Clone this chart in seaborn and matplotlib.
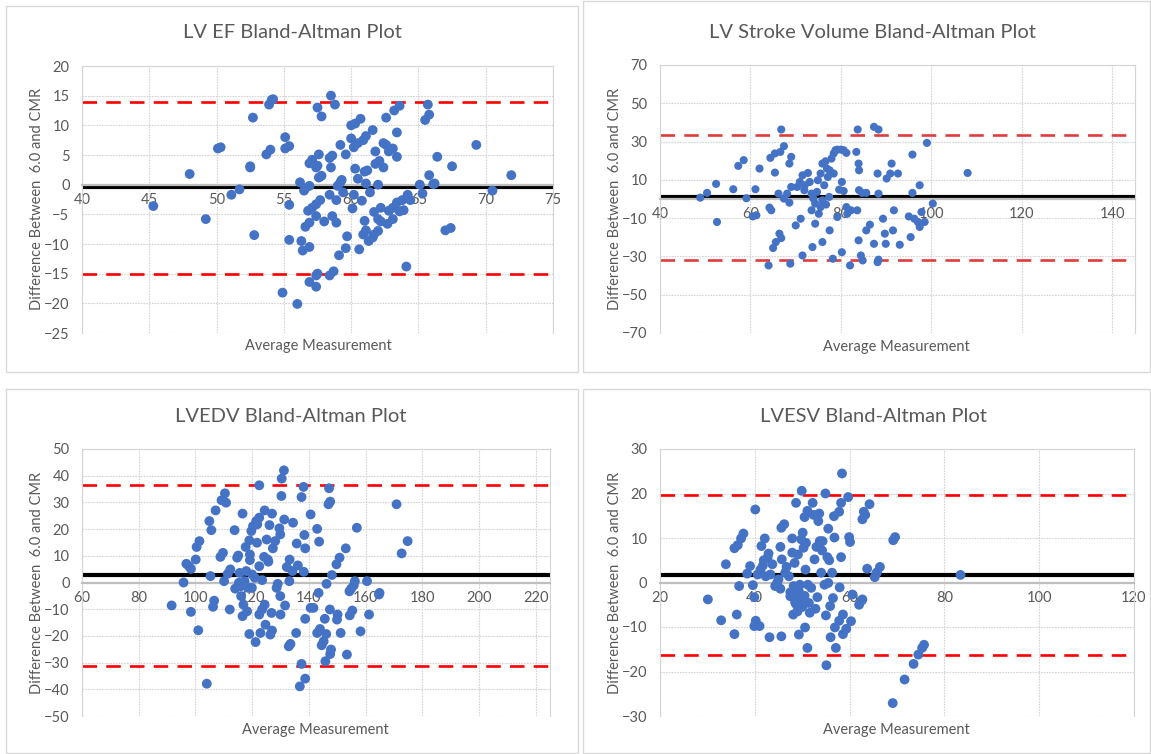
import matplotlib
matplotlib.use("Agg")
import matplotlib.pyplot as plt
import seaborn as sns
import numpy as np
import pandas as pd
from matplotlib.patches import Rectangle

# ---- data ----
ef_avg = [45.3, 48.0, 49.2, 50.1, 50.3, 51.1, 51.7, 52.5, 52.5, 52.7, 52.8, 53.7, 53.9, 54.0, 54.1, 54.2,
          55.1, 55.1, 55.4, 55.4, 55.4, 54.9, 56.0, 56.2, 56.5, 56.6, 56.9, 56.3, 56.4, 56.9, 56.9, 57.4,
          57.4, 57.5, 56.9, 57.1, 57.4, 57.5, 57.6, 57.6, 57.8, 57.5, 57.8, 56.6, 56.9, 56.8, 57.1, 57.4,
          57.7, 57.4, 58.0, 58.4, 58.5, 58.8, 58.4, 58.6, 58.5, 58.4, 58.7, 58.6, 58.9, 58.9, 59.0, 59.2,
          59.3, 59.4, 59.2, 59.6, 59.7, 59.6, 59.1, 60.0, 60.0, 60.3, 60.2, 60.3, 60.5, 60.2, 60.1, 60.7,
          60.5, 60.9, 61.1, 61.0, 61.2, 60.8, 61.1, 61.4, 60.6, 60.9, 61.0, 61.1, 61.3, 61.6, 61.7, 61.6,
          61.8, 61.8, 62.1, 62.0, 61.7, 62.2, 62.0, 62.2, 62.0, 62.4, 62.4, 62.6, 62.6, 62.7, 62.8, 63.1,
          62.8, 63.1, 63.1, 63.2, 63.6, 63.4, 63.4, 63.4, 63.6, 63.8, 63.9, 64.1, 64.2, 64.4, 65.1, 65.3,
          65.5, 65.7, 65.8, 65.8, 66.1, 66.2, 66.4, 67.0, 67.4, 67.5, 69.3, 70.5, 71.9]
ef_diff = [-3.6, 1.8, -5.8, 6.1, 6.3, -1.7, -0.8, 2.9, 3.1, 11.3, -8.5, 5.1, 13.5, 5.9, 14.3, 14.4,
           8.0, 6.1, 6.5, -3.4, -9.3, -18.2, -20.1, 0.4, -1.0, -0.6, -0.2, -9.5, -11.1, -10.5, -16.4, -17.2,
           -15.3, -15.0, 3.6, 4.2, 2.9, 3.2, 5.1, 1.2, 1.5, 13.0, 11.5, -7.1, -6.4, -4.4, -3.9, -3.3,
           -2.6, -5.3, -6.2, -1.7, 15.0, 13.5, 4.5, 4.9, 2.9, -15.3, -14.6, -5.3, -2.6, -6.4, -0.2, 0.4,
           0.8, -1.3, 6.7, 5.1, -8.7, -10.7, -11.9, 7.8, 10.0, 10.3, 6.3, 2.7, 1.0, -1.7, -4.0, 11.1,
           7.0, 7.5, 8.2, 2.2, 2.4, -2.7, 0.2, -1.3, -10.9, -8.4, -6.1, -7.7, -9.5, -8.9, -8.4, 9.2,
           5.6, 3.5, 4.0, 0.0, -4.6, -3.9, -5.8, -6.2, -7.8, 2.9, 7.0, 6.7, 11.3, -6.6, -4.4, 6.1,
           5.6, -3.9, -5.8, 12.5, 13.3, 8.8, 4.7, -3.0, -4.5, -2.6, -4.3, -13.8, -1.7, -2.6, 0.0, -1.5,
           10.9, 13.5, 11.8, 1.6, 0.1, 0.2, 4.7, -7.7, -7.3, 3.1, 6.7, -1.0, 1.6]

sv_avg = [48.9, 50.4, 52.4, 52.6, 56.2, 57.3, 58.5, 59.1, 60.5, 61.3, 61.1, 62.0, 64.2, 64.4, 65.4, 66.6,
          66.8, 67.4, 65.4, 66.2, 64.6, 65.0, 65.6, 66.4, 66.8, 64.0, 68.6, 69.0, 67.4, 68.1, 68.6, 69.0,
          68.8, 70.0, 71.1, 71.5, 70.3, 70.9, 71.5, 71.9, 72.0, 72.7, 73.1, 73.5, 73.9, 73.5, 74.3, 73.7,
          74.3, 74.7, 74.9, 75.5, 75.9, 76.3, 75.9, 75.5, 75.1, 75.9, 76.6, 76.9, 77.1, 77.5, 77.9, 78.4,
          78.8, 79.2, 80.0, 80.6, 81.2, 78.4, 77.4, 76.7, 77.5, 78.2, 80.2, 79.6, 80.6, 79.2, 80.2, 81.4,
          82.0, 81.2, 82.2, 83.4, 83.7, 83.9, 84.0, 84.0, 84.7, 83.6, 83.9, 84.4, 84.8, 85.6, 85.6, 86.4,
          87.3, 88.3, 88.1, 88.3, 87.3, 88.1, 88.3, 89.3, 89.7, 89.9, 90.1, 90.9, 91.2, 91.7, 91.5, 92.6,
          93.0, 95.0, 95.4, 95.8, 95.8, 96.2, 97.0, 97.4, 97.8, 97.4, 98.5, 99.0, 100.3, 108.0]
sv_diff = [0.7, 3.2, 7.9, -12.0, 5.1, 17.3, 20.3, 0.4, -9.1, -8.5, 5.1, 15.9, -4.5, 21.5, 23.8, 24.6,
           36.3, 27.6, 13.8, 2.8, -5.9, -25.6, -22.5, -18.1, -20.4, -34.7, 18.5, 22.0, 0.2, 2.8, -1.9, 6.3,
           -33.8, -13.8, -10.3, -29.5, 6.3, 8.9, 12.4, 4.6, 7.2, 13.6, 8.9, 2.8, 0.2, -5.9, -12.9, -25.1,
           -2.4, 3.7, 9.8, 13.3, 18.5, 7.2, -0.7, -4.2, -7.7, -22.5, 19.7, 15.9, 11.5, 15.0, 21.1, 23.8,
           25.5, 25.8, 25.8, 25.5, 24.1, 13.3, 1.1, -2.9, -16.4, -31.2, 8.9, 4.9, 4.2, -9.4, -27.8, -7.7,
           -34.7, -4.2, -5.9, 24.6, 36.3, 18.5, 15.0, 4.6, 3.2, -5.9, -21.6, -29.5, -32.1, 3.2, -16.4, -13.4,
           37.7, 36.3, 13.3, 2.8, -23.4, -33.0, -31.7, -10.3, -18.1, -23.4, 10.7, 13.3, 18.5, -5.9, -16.4, 13.3,
           -23.9, -9.1, -19.9, 3.2, 23.2, -10.3, -12.0, 7.2, -6.8, -14.6, -12.0, 29.3, -2.4, 13.6]

edv_avg = [91.6, 95.8, 96.8, 97.7, 98.4, 98.4, 100.1, 100.4, 101.4, 101.0, 104.0, 104.9, 105.6, 105.3, 106.2,
           106.6, 107.1, 108.8, 109.2, 109.7, 110.1, 110.4, 110.8, 111.4, 112.1, 112.3, 113.8, 114.0, 114.7,
           115.1, 115.6, 115.3, 116.0, 116.1, 116.6, 116.6, 116.9, 117.3, 117.7, 117.9, 118.2, 118.6, 119.0,
           119.0, 119.2, 119.2, 119.7, 120.3, 120.0, 119.9, 120.9, 121.2, 121.4, 121.7, 121.8, 122.5, 122.5,
           122.5, 122.5, 122.9, 123.5, 123.5, 124.2, 124.4, 124.7, 124.4, 125.1, 125.5, 125.7, 126.1, 126.4,
           127.0, 126.8, 127.0, 127.3, 128.1, 128.6, 129.0, 129.6, 129.9, 129.9, 130.0, 130.3, 130.4, 131.2,
           131.3, 131.6, 132.2, 133.1, 133.2, 132.9, 133.5, 134.2, 134.4, 135.5, 135.7, 136.1, 136.8, 137.4,
           137.4, 138.1, 138.2, 138.4, 138.7, 138.7, 138.7, 140.6, 140.6, 141.6, 142.9, 142.9, 143.4, 143.6,
           143.9, 144.5, 145.2, 145.6, 145.8, 146.1, 146.2, 146.9, 147.1, 147.5, 147.5, 147.8, 147.4, 148.1,
           149.7, 149.9, 150.1, 150.8, 151.2, 153.0, 153.4, 154.3, 154.4, 154.9, 155.3, 155.8, 156.2, 156.9,
           158.2, 160.5, 161.2, 164.7, 164.9, 170.9, 172.7, 174.8]
edv_diff = [-8.6, 0.0, 7.0, 6.1, 5.1, -11.0, 8.6, 13.3, 15.5, -17.9, -37.9, 23.0, 19.6, 2.4, -9.1,
            -6.8, 27.0, 9.6, 30.8, 11.1, 0.5, 33.4, 29.9, 3.3, -10.1, 4.9, 19.6, -2.3, 9.3,
            10.1, 3.6, -0.1, -1.4, -5.1, 25.8, -12.6, -8.3, 0.5, 13.3, 4.3, -10.8, -2.0, 15.8,
            -19.3, 10.5, 8.4, 19.3, 21.1, 3.0, -2.0, 1.8, -22.3, 23.0, 14.9, 21.8, 24.3, 36.4,
            6.1, -12.0, -18.9, 0.9, -10.1, 9.6, 27.0, -15.8, -8.3, 16.1, 8.6, 7.8, 21.5, -19.5,
            -18.0, -11.4, 25.8, 12.8, 15.5, -2.0, -0.5, 20.3, 18.0, -5.1, -12.0, 32.4, 38.9, 42.0,
            23.6, -8.6, 5.8, 0.5, 8.6, -23.9, -23.0, 4.3, 22.4, -18.9, 14.6, 6.4, -38.9, 32.0,
            -30.5, 35.8, 4.0, 17.8, 12.8, -13.6, -36.0, 25.5, -9.5, -9.5, 20.1, -18.9, -3.9, 15.3,
            -17.4, -23.5, -22.0, -13.6, -29.5, -19.3, -0.5, 29.3, 35.3, 30.3, -26.8, -25.1, -10.1, 2.8,
            6.8, -13.9, -12.0, 9.3, -18.9, 12.8, -27.0, -3.3, -12.3, -2.3, -10.5, -1.1, 0.5, 20.5,
            -18.3, 0.5, -12.0, -4.5, -3.9, 29.3, 10.9, 15.5]

esv_avg = [30.1, 32.9, 33.9, 35.7, 36.4, 35.7, 36.2, 36.7, 37.1, 37.6, 38.4, 39.0, 39.6, 39.9, 40.1, 39.9,
           40.2, 41.0, 40.6, 41.2, 41.4, 41.7, 41.9, 42.1, 42.3, 42.7, 42.9, 43.1, 43.3, 43.7, 44.3, 44.7,
           45.0, 45.4, 45.4, 45.6, 45.6, 46.2, 45.7, 46.4, 46.7, 47.2, 47.5, 47.9, 47.9, 48.1, 48.4, 48.7,
           48.5, 48.8, 48.9, 49.1, 49.3, 49.5, 49.7, 49.8, 49.9, 50.1, 50.1, 50.3, 50.5, 50.6, 50.7, 50.8,
           51.1, 51.1, 51.2, 51.4, 51.6, 51.9, 52.2, 52.4, 52.6, 52.8, 53.0, 53.2, 53.4, 53.6, 53.7, 54.0,
           54.2, 54.3, 54.7, 54.9, 55.0, 55.1, 55.3, 55.5, 55.5, 55.7, 55.9, 56.0, 56.3, 56.5, 56.7, 56.8,
           56.9, 57.1, 57.8, 57.9, 57.8, 58.2, 58.2, 58.4, 58.6, 58.6, 59.3, 59.7, 59.9, 60.1, 60.3, 60.6,
           62.0, 62.5, 62.7, 62.7, 63.0, 63.3, 63.7, 64.2, 65.3, 65.6, 65.8, 66.4, 69.2, 69.6, 69.1, 71.6,
           73.5, 74.5, 75.3, 75.7, 83.4, 48.5, 49.2, 50.0, 49.0, 47.5, 50.5, 48.2]
esv_diff = [-3.8, -8.5, 4.1, 7.7, 8.4, -11.6, -7.2, -0.8, 9.9, 11.0, 2.0, 3.7, -0.6, -3.3, 16.4, -9.8,
            -8.6, -9.8, 1.8, 2.9, 8.2, 3.8, 5.0, 9.9, 1.4, 5.6, 6.5, -12.3, 1.8, 4.1, -0.8, -0.1,
            0.7, -1.4, 8.0, -12.1, 12.3, 13.1, 5.2, 2.2, 3.5, 1.4, -3.1, 9.9, 6.7, -7.2, 4.4, 17.9,
            -3.5, -5.0, -2.0, 6.3, -11.7, -0.5, -2.7, 9.7, 20.6, 11.2, -3.8, 7.8, 14.7, -10.1, 2.9, 8.9,
            16.1, -14.7, -0.5, -4.6, -6.8, -1.2, 17.9, 15.2, 5.2, -5.9, 8.0, -3.3, 13.8, 15.5, 9.3, 2.2,
            7.2, 9.3, -0.5, 20.0, -7.4, -18.6, 5.7, 12.1, -0.1, 5.0, -5.3, -12.3, 2.2, -3.5, 14.9, 10.1,
            -10.1, -14.7, 15.9, -1.1, -8.6, 17.9, 5.7, 24.5, -7.2, -11.6, -10.4, 19.2, 10.2, 9.1, -8.7, -2.7,
            -5.0, -4.1, -3.8, 14.2, 15.9, 15.2, 3.1, 17.6, 1.2, 2.0, 2.3, 3.5, 9.5, 10.2, -27.1, -21.8,
            -18.3, -16.2, -14.7, -14.0, 1.7, -4.5, -1.5, -5.5, -6.5, -2.2, -3.0, -0.8]

# bias and limits of agreement (mean, upper, lower)
ef_lines = [-0.35, 13.9, -15.0]
sv_lines = [0.8, 33.5, -32.1]
edv_lines = [2.75, 36.6, -31.2]
esv_lines = [1.6, 19.6, -16.2]

titles = ['LV EF Bland-Altman Plot', 'LV Stroke Volume Bland-Altman Plot',
          'LVEDV Bland-Altman Plot', 'LVESV Bland-Altman Plot']

sns.set_style('white')
plt.rcParams['font.family'] = ['Lato', 'DejaVu Sans']

W, H = 1151, 754
fig = plt.figure(figsize=(W / 100, H / 100), dpi=100)
TXT = '#595959'
GRID = '#d4d4d4'


def px_axes(x0, y0, x1, y1):
    # pixel box (top-left origin) -> figure axes
    return fig.add_axes([x0 / W, 1 - y1 / H, (x1 - x0) / W, (y1 - y0) / H])


def panel_box(x0, y0, x1, y1):
    fig.add_artist(Rectangle((x0 / W, 1 - y1 / H), (x1 - x0) / W, (y1 - y0) / H,
                             transform=fig.transFigure, fill=False, edgecolor='#d9d9d9', lw=1))


def bland_altman(ax, avg, diff, lines, xlim, xstep, ylim, ystep, msize=50, red='#ff0000'):
    df = pd.DataFrame({'avg': avg, 'diff': diff})
    ax.set_xlim(*xlim)
    ax.set_ylim(*ylim)
    ax.set_xticks(np.arange(xlim[0], xlim[1] + 0.1, xstep))
    ax.set_yticks(np.arange(ylim[0], ylim[1] + 0.1, ystep))
    ax.grid(True, color=GRID, lw=0.8, ls=(0, (1.5, 1)))
    ax.set_axisbelow(True)
    for s in ['left', 'right', 'top']:
        ax.spines[s].set_color(GRID)
        ax.spines[s].set_linewidth(0.8)
    ax.spines['bottom'].set_position(('data', 0))
    ax.spines['bottom'].set_color('#bfbfbf')
    ax.spines['bottom'].set_linewidth(1.6)
    ax.tick_params(length=0, labelsize=10.5, colors=TXT)
    ax.tick_params(axis='x', pad=6)
    ax.tick_params(axis='y', pad=9)
    # mean bias and limits of agreement
    ax.axhline(lines[0], color='black', lw=3, zorder=2)
    for v in lines[1:]:
        ax.axhline(v, color=red, lw=1.9, ls=(0, (5.5, 3.5)), zorder=2)
    sns.scatterplot(data=df, x='avg', y='diff', ax=ax, s=msize, color='#4472c4',
                    edgecolor='none', zorder=3, clip_on=False)
    ax.set_xlabel('')
    ax.set_ylabel('')


panel_box(6, 6, 578, 372)
panel_box(583, 1, 1150, 372)
panel_box(6, 389, 578, 753)
panel_box(583, 389, 1150, 753)

ax1 = px_axes(82, 66, 553, 333)
bland_altman(ax1, ef_avg, ef_diff, ef_lines, (40, 75), 5, (-25, 20), 5)
ax2 = px_axes(660, 65, 1135, 333)
bland_altman(ax2, sv_avg, sv_diff, sv_lines, (40, 145), 20, (-70, 70), 20, msize=34, red='#e03c3c')
ax2.set_xticks(np.arange(40, 141, 20))
ax3 = px_axes(82, 449, 550, 716)
bland_altman(ax3, edv_avg, edv_diff, edv_lines, (60, 225), 20, (-50, 50), 10)
ax3.set_xticks(np.arange(60, 221, 20))
ax4 = px_axes(660, 449, 1134, 716)
bland_altman(ax4, esv_avg, esv_diff, esv_lines, (20, 120), 20, (-30, 30), 10)

# titles and axis titles placed like the Excel chart boxes
title_pos = [(292, 33), (872, 33), (291, 417), (873, 417)]
ylab_pos = [(37, 199), (615, 199), (37, 583), (615, 583)]
xlab_pos = [(318, 346), (896, 347), (315, 730), (896, 730)]
for t, (tx, ty), (yx, yy), (xx, xy) in zip(titles, title_pos, ylab_pos, xlab_pos):
    fig.text(tx / W, 1 - ty / H, t, ha='center', va='center', fontsize=14.5, color=TXT)
    fig.text(yx / W, 1 - yy / H, 'Difference Between  6.0 and CMR', rotation=90,
             ha='center', va='center', fontsize=10.5, color=TXT)
    fig.text(xx / W, 1 - xy / H, 'Average Measurement', ha='center', va='center',
             fontsize=10.5, color=TXT)

fig.savefig('out.png', dpi=100)
